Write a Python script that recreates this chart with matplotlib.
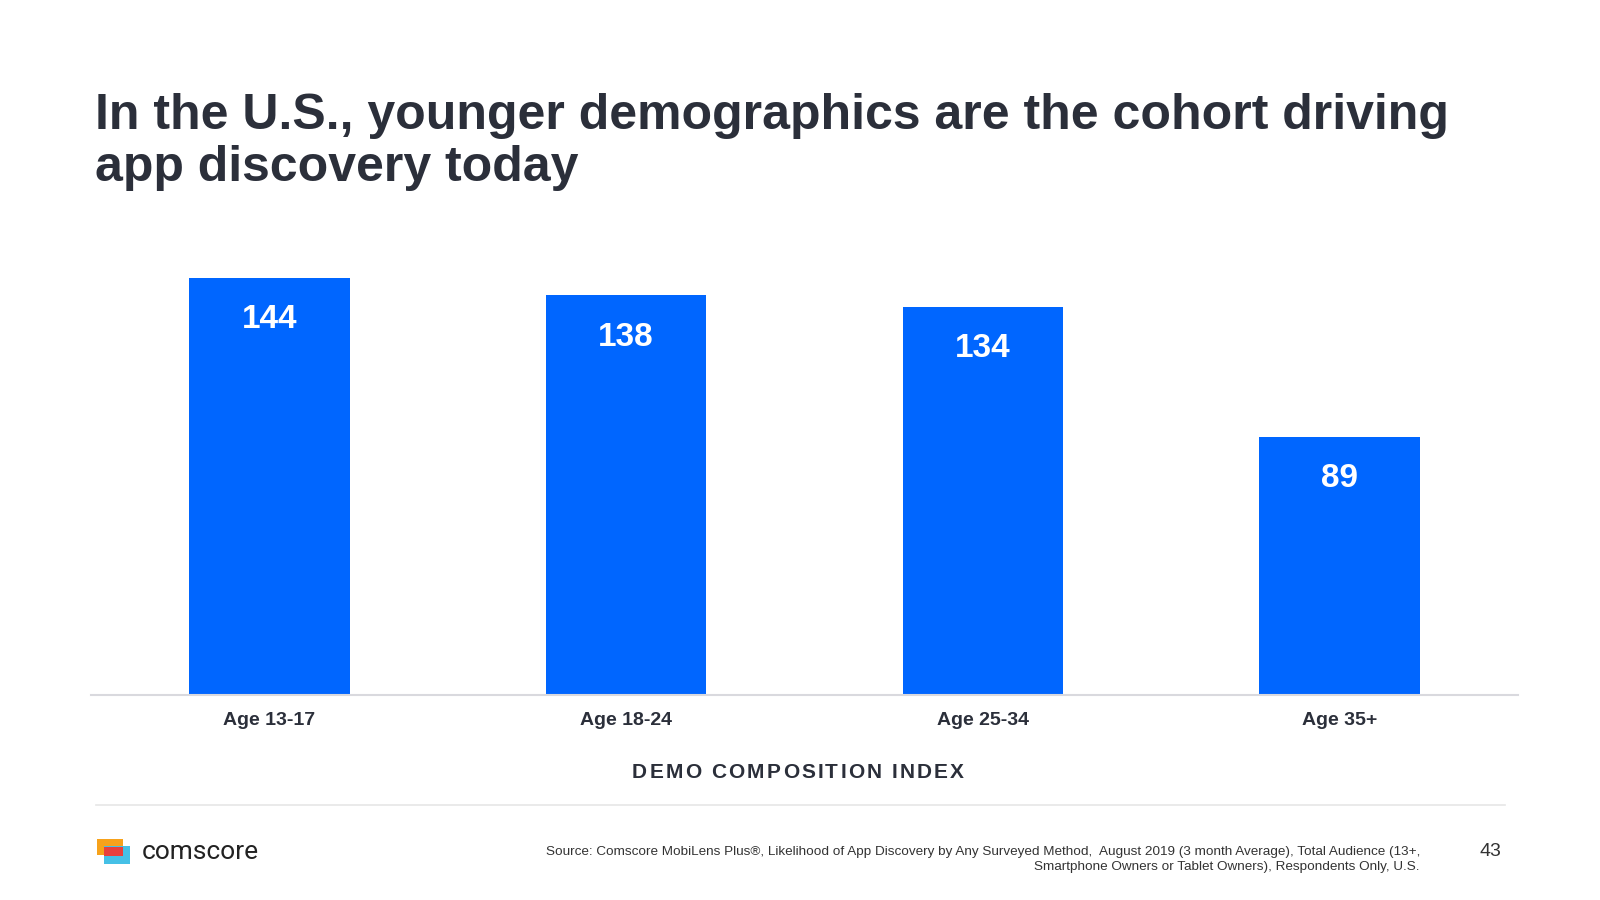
import matplotlib.pyplot as plt
from matplotlib.patches import Rectangle

# data
groups = ["Age 13-17", "Age 18-24", "Age 25-34", "Age 35+"]
index_values = [144, 138, 134, 89]

title_lines = ["In the U.S., younger demographics are the cohort driving",
               "app discovery today"]
source_lines = ["Source: Comscore MobiLens Plus\u00ae, Likelihood of App Discovery by Any Surveyed Method,  August 2019 (3 month Average), Total Audience (13+,",
                "Smartphone Owners or Tablet Owners), Respondents Only, U.S."]

dark = "#2b2f3a"
blue = "#0066ff"
plt.rcParams["font.family"] = ["Liberation Sans", "DejaVu Sans"]

fig = plt.figure(figsize=(16, 9), dpi=100)
W, H = 1600, 900

# title (two lines placed by baseline)
fig.text(95 / W, 1 - 129 / H, title_lines[0], fontsize=36, fontweight="bold",
         color=dark, va="baseline", ha="left")
fig.text(95 / W, 1 - 181 / H, title_lines[1], fontsize=36, fontweight="bold",
         color=dark, va="baseline", ha="left")

# bar chart
ax = fig.add_axes([91 / W, 1 - 695 / H, 1427 / W, 434.4 / H])
x = range(len(groups))
bars = ax.bar(x, index_values, width=0.45, color=blue, zorder=2)
ax.set_xlim(-0.5, len(groups) - 0.5)
ax.set_ylim(0, 150)
for s in ["top", "right", "left"]:
    ax.spines[s].set_visible(False)
ax.spines["bottom"].set_color("#d9d9de")
ax.spines["bottom"].set_linewidth(1.5)
ax.set_yticks([])
ax.set_xticks(list(x))
ax.set_xticklabels(groups, fontsize=14, fontweight="bold", color=dark)
ax.tick_params(axis="x", length=0, pad=12.5)

for b, v in zip(bars, index_values):
    ax.annotate(str(v), (b.get_x() + b.get_width() / 2, v), xytext=(0, -30),
                textcoords="offset points", ha="center", va="center",
                fontsize=24, fontweight="bold", color="white")

# axis title with letter spacing
renderer = fig.canvas.get_renderer()
label = "DEMO COMPOSITION INDEX"
spacing = 2.2
props = dict(fontsize=15, fontweight="bold", color=dark)
widths = []
for i in range(len(label) + 1):
    t = fig.text(0, 0, label[:i] + "|", **props)
    w1 = t.get_window_extent(renderer).width
    t.remove()
    t = fig.text(0, 0, "|", **props)
    w0 = t.get_window_extent(renderer).width
    t.remove()
    widths.append(w1 - w0)
total = widths[-1] + spacing * (len(label) - 1)
x0 = 798 - total / 2
for i, ch in enumerate(label):
    fig.text((x0 + widths[i] + spacing * i) / W, 1 - 772 / H, ch,
             ha="left", va="center", **props)

# separator line
fig.add_artist(plt.Line2D([96 / W, 1505 / W], [1 - 805 / H, 1 - 805 / H],
                          color="#e6e6e6", linewidth=1.2))

# logo
def rect(x1, y1, x2, y2, c):
    fig.add_artist(Rectangle((x1 / W, 1 - y2 / H), (x2 - x1) / W, (y2 - y1) / H,
                             facecolor=c, edgecolor="none", transform=fig.transFigure))

rect(97, 839, 123, 855, "#f7a21b")
rect(104, 846, 130, 864, "#45c0e6")
rect(104, 847, 123, 856, "#e8403c")
fig.text(142 / W, 1 - 852 / H, "comscore", fontsize=19, color="#222222",
         family=["Roboto", "DejaVu Sans"], ha="left", va="center")

# source note
fig.text(1420 / W, 1 - 852 / H, source_lines[0], fontsize=9.7, color="#333333",
         ha="right", va="center")
fig.text(1420 / W, 1 - 867 / H, source_lines[1], fontsize=9.7, color="#333333",
         ha="right", va="center")

# page number
fig.text(1490 / W, 1 - 852 / H, "43", fontsize=14, color="#333333",
         ha="center", va="center")

fig.savefig("out.png", dpi=100)
